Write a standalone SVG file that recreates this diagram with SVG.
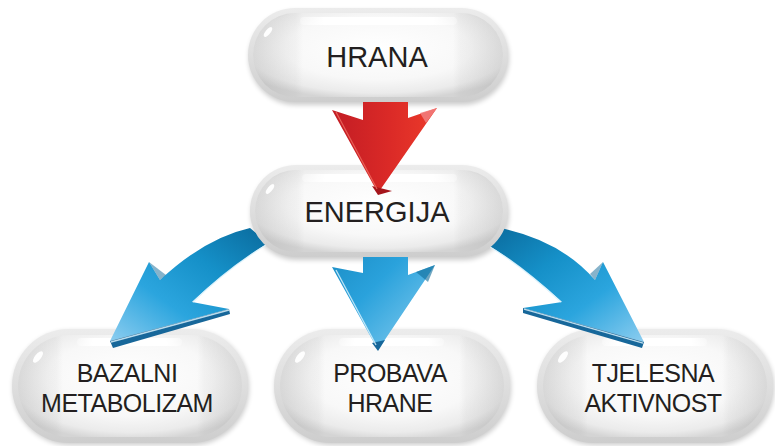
<svg xmlns="http://www.w3.org/2000/svg" width="775" height="446" viewBox="0 0 775 446">
<defs>
<style>
.lbl{font-family:"Liberation Sans",Arial,Helvetica,sans-serif;fill:#231f20;text-anchor:middle}
.big{font-size:29px}
.sm{font-size:25px;letter-spacing:-0.5px}
.shadow{fill:#000;opacity:.2;filter:url(#blur)}
.rim{fill:url(#rim)}
.body{fill:url(#body)}
.ends{fill:url(#ends)}
.hl{fill:url(#hl)}
.spot{fill:#fff;opacity:.95}
.edge{fill:none;stroke:#d8f1fc;stroke-width:1.3;opacity:.85}
.side{fill:#17679a}
</style>
<filter id="blur" x="-10%" y="-20%" width="120%" height="150%"><feGaussianBlur stdDeviation="2.5"/></filter>
<linearGradient id="rim" x1="0" y1="0" x2="0" y2="1">
<stop offset="0" stop-color="#ececec"/><stop offset=".5" stop-color="#dedede"/><stop offset="1" stop-color="#cdcdcd"/>
</linearGradient>
<radialGradient id="body" cx=".5" cy=".42" r=".62">
<stop offset="0" stop-color="#ffffff"/><stop offset=".6" stop-color="#f8f8f8"/><stop offset=".86" stop-color="#ebebeb"/><stop offset="1" stop-color="#d4d4d4"/>
</radialGradient>
<linearGradient id="ends" x1="0" y1="0" x2="1" y2="0">
<stop offset="0" stop-color="#8c8c8c" stop-opacity=".22"/><stop offset=".17" stop-color="#8c8c8c" stop-opacity=".07"/><stop offset=".2" stop-color="#8c8c8c" stop-opacity="0"/><stop offset=".8" stop-color="#8c8c8c" stop-opacity="0"/><stop offset=".83" stop-color="#8c8c8c" stop-opacity=".07"/><stop offset="1" stop-color="#8c8c8c" stop-opacity=".22"/>
</linearGradient>
<linearGradient id="hl" x1="0" y1="0" x2="1" y2="0">
<stop offset="0" stop-color="#fff" stop-opacity=".3"/><stop offset=".15" stop-color="#fff" stop-opacity="1"/><stop offset=".85" stop-color="#fff" stop-opacity="1"/><stop offset="1" stop-color="#fff" stop-opacity=".3"/>
</linearGradient>
<linearGradient id="redG" x1="0" y1="0" x2="1" y2="0">
<stop offset="0" stop-color="#c21c24"/><stop offset=".55" stop-color="#db2a27"/><stop offset="1" stop-color="#ec3b2b"/>
</linearGradient>
<linearGradient id="blueL" x1="1" y1="0" x2="0" y2="1">
<stop offset="0" stop-color="#0a6a9c"/><stop offset=".35" stop-color="#1590c8"/><stop offset=".65" stop-color="#2ba5de"/><stop offset="1" stop-color="#8ccdf0"/>
</linearGradient>
<linearGradient id="blueR" x1="0" y1="0" x2="1" y2="1">
<stop offset="0" stop-color="#0a6a9c"/><stop offset=".35" stop-color="#1590c8"/><stop offset=".65" stop-color="#2ba5de"/><stop offset="1" stop-color="#8ccdf0"/>
</linearGradient>
<linearGradient id="blueM" x1="0" y1="0" x2="1" y2="1">
<stop offset="0" stop-color="#1a8cc4"/><stop offset=".4" stop-color="#2aa2dc"/><stop offset="1" stop-color="#8ccff0"/>
</linearGradient>
<clipPath id="notHrana"><path clip-rule="evenodd" d="M0,0H775V446H0Z M295,8H461A47,47 0 0 1 461,102H295A47,47 0 0 1 295,8Z"/></clipPath>
<clipPath id="notEnergija"><path clip-rule="evenodd" d="M0,0H775V446H0Z M296,165H462A46,46 0 0 1 462,257H296A46,46 0 0 1 296,165Z"/></clipPath>
</defs>
<rect width="775" height="446" fill="#fff"/>

<g id="bazalni-metabolizam">
<rect class="shadow" x="13" y="331" width="236" height="114" rx="57"/>
<rect class="rim" x="12" y="329" width="236" height="114" rx="57"/>
<rect class="body" x="18" y="335" width="224" height="102" rx="51"/>
<rect class="ends" x="18" y="335" width="224" height="102" rx="51"/>
<rect class="hl" x="77" y="338" width="105" height="8" rx="4"/>
<ellipse class="spot" cx="38" cy="357" rx="3" ry="7" transform="rotate(40 38 357)"/>
<text class="lbl sm" x="127" y="382">BAZALNI</text>
<text class="lbl sm" x="127" y="412">METABOLIZAM</text>
</g>

<g id="probava-hrane">
<rect class="shadow" x="275" y="331" width="236" height="114" rx="57"/>
<rect class="rim" x="274" y="329" width="236" height="114" rx="57"/>
<rect class="body" x="280" y="335" width="224" height="102" rx="51"/>
<rect class="ends" x="280" y="335" width="224" height="102" rx="51"/>
<rect class="hl" x="339" y="338" width="105" height="8" rx="4"/>
<ellipse class="spot" cx="300" cy="357" rx="3" ry="7" transform="rotate(40 300 357)"/>
<text class="lbl sm" x="390" y="382">PROBAVA</text>
<text class="lbl sm" x="390" y="412">HRANE</text>
</g>

<g id="tjelesna-aktivnost">
<rect class="shadow" x="538" y="331" width="236" height="114" rx="57"/>
<rect class="rim" x="537" y="329" width="236" height="114" rx="57"/>
<rect class="body" x="543" y="335" width="224" height="102" rx="51"/>
<rect class="ends" x="543" y="335" width="224" height="102" rx="51"/>
<rect class="hl" x="602" y="338" width="105" height="8" rx="4"/>
<ellipse class="spot" cx="563" cy="357" rx="3" ry="7" transform="rotate(40 563 357)"/>
<text class="lbl sm" x="653" y="382">TJELESNA</text>
<text class="lbl sm" x="653" y="412">AKTIVNOST</text>
</g>

<g id="energija">
<rect class="shadow" x="251" y="168" width="258" height="92" rx="46"/>
<rect class="rim" x="250" y="165" width="258" height="92" rx="46"/>
<rect class="body" x="255" y="170" width="248" height="82" rx="41"/>
<rect class="ends" x="255" y="170" width="248" height="82" rx="41"/>
<rect class="hl" x="302" y="174" width="155" height="8" rx="4"/>
<ellipse class="spot" cx="270" cy="189" rx="2.5" ry="6" transform="rotate(40 270 189)"/>
<text class="lbl big" x="377" y="222">ENERGIJA</text>
</g>

<g id="hrana">
<rect class="shadow" x="249" y="11" width="260" height="94" rx="47"/>
<rect class="rim" x="248" y="8" width="260" height="94" rx="47"/>
<rect class="body" x="253" y="13" width="250" height="84" rx="42"/>
<rect class="ends" x="253" y="13" width="250" height="84" rx="42"/>
<rect class="hl" x="300" y="17" width="157" height="8" rx="4"/>
<ellipse class="spot" cx="268" cy="32" rx="2.5" ry="6" transform="rotate(40 268 32)"/>
<text class="lbl big" x="377" y="67">HRANA</text>
</g>

<g id="connectors">
<g id="arrow-hrana-energija" clip-path="url(#notHrana)">
<path d="M363,90 L408,90 L408,118 L437,108 L378,193 L332,110 L363,120 Z" fill="url(#redG)"/>
<polygon points="420,113 437,108 426,123" fill="#f27f7f" opacity=".85"/>
<polygon points="372,186 392,191 378,195" fill="#a5151b"/>
<line x1="336" y1="112" x2="377" y2="189" stroke="#f47a6c" stroke-width="1.2" opacity=".7"/>
</g>
<g clip-path="url(#notEnergija)">
<g id="arrow-energija-bazalni">
<path d="M250,228 Q205,238 160,280 L149,262 L110,341 L229,309 L192,302 Q228,268 268,243 Z" fill="url(#blueL)"/>
<polygon class="side" points="110,341 229,309 230,314 113,348"/>
<polygon points="149,262 160,280 166,275" fill="#0e6797" opacity=".5"/>
<path class="edge" d="M193,302 Q228,268 266,245"/>
<line class="edge" x1="111" y1="342" x2="229" y2="310"/>
</g>
<g id="arrow-energija-probava">
<path d="M363,245 L408,245 L408,275 L435,265 L378,350 L332,267 L363,273 Z" fill="url(#blueM)"/>
<polygon points="416,272 435,265 428,282" fill="#0f6a98" opacity=".6"/>
<polygon class="side" points="372,343 385,340 378,351"/>
<line class="edge" x1="336" y1="270" x2="376" y2="345"/>
</g>
<g id="arrow-energija-tjelesna">
<path d="M500,228 Q560,240 595,280 L603,262 L644,342 L523,308 L562,302 Q522,266 488,245 Z" fill="url(#blueR)"/>
<polygon class="side" points="523,308 644,342 642,348 523,313"/>
<polygon points="603,262 595,280 590,274" fill="#0e6797" opacity=".5"/>
<path class="edge" d="M561,302 Q522,266 490,247"/>
<line class="edge" x1="524" y1="309" x2="643" y2="343"/>
</g>
</g>
</g>
</svg>
